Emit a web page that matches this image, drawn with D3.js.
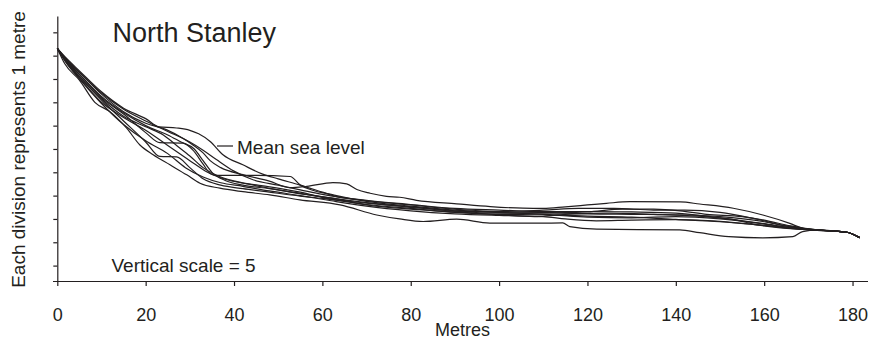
<!DOCTYPE html>
<html>
<head>
<meta charset="utf-8">
<script src="https://cdn.jsdelivr.net/npm/d3@7"></script>
<style>
  body { margin: 0; background: #fff; }
  svg { display: block; font-family: 'Liberation Sans', Arial, sans-serif; }
</style>
</head>
<body>
<svg id="chart"></svg>
<script>
// beach profiles, [metres, elevation in divisions]
const p1 = [[0,9.31],[2,8.9],[5,8.35],[10,7.45],[15,6.75],[20,6.3],[23,5.95],[27,5.9],[30,5.8],[32,5.65],[34.6,5.32],[37.5,4.75],[42,4.32],[46.5,3.92],[50,3.72],[55,3.45],[60,3.15],[63,2.97],[70,2.8],[80,2.62],[90,2.45],[100,2.38],[110,2.32],[120,2.32],[130,2.3],[140,2.25],[150,2.05],[160,1.8],[166,1.63],[172,1.53],[176,1.48],[179,1.42],[181.6,1.2]]
const p2 = [[0,9.31],[2,8.85],[5,8.3],[10,7.35],[15,6.6],[20,6.1],[24.8,5.82],[28.4,5.46],[30.7,5.17],[33,4.83],[34.6,4.5],[37,4.2],[42,3.9],[48,3.62],[52.7,3.34],[56.5,3.4],[62.4,3.56],[65.5,3.5],[67.8,3.26],[70.8,3.1],[74.5,2.97],[77.5,2.93],[81.3,2.8],[90.4,2.65],[98,2.53],[105.4,2.46],[110,2.45],[115,2.52],[120,2.6],[124.3,2.67],[129.6,2.74],[141,2.73],[145.4,2.64],[153,2.46],[159.7,2.17],[165.8,1.81],[168.7,1.6],[172,1.52],[176,1.48],[179,1.42],[181.6,1.2]]
const p3 = [[0,9.31],[3,8.6],[6,8.0],[10,7.2],[15,6.5],[20,5.7],[23.2,5.27],[28.4,5.25],[30.7,4.95],[33,4.35],[34.6,3.95],[36,3.87],[45,3.87],[52.7,3.82],[55,3.45],[58,3.22],[62,3.05],[70,2.75],[80,2.55],[90,2.38],[100,2.3],[110,2.28],[120,2.22],[130,2.2],[140,2.18],[150,2.1],[160,1.88],[166,1.66],[172,1.53],[176,1.48],[179,1.42],[181.6,1.2]]
const p4 = [[0,9.31],[1.7,8.65],[5,7.95],[8.5,7.0],[11.9,6.6],[15.7,5.89],[18.7,5.17],[21.7,4.75],[25.5,4.32],[29.3,3.89],[32.3,3.53],[36.8,3.32],[42,3.17],[48.1,3.03],[54.9,2.82],[64,2.6],[72.3,2.17],[77.5,2.0],[82.8,1.89],[90.4,1.99],[97.9,1.82],[109.2,1.82],[114.4,1.83],[116,1.67],[122.1,1.56],[140.9,1.53],[145.4,1.41],[152,1.24],[159.7,1.19],[166.5,1.24],[168.7,1.46],[172,1.52],[176,1.48],[179,1.42],[181.6,1.2]]
const p5 = [[0,9.31],[2,8.75],[5,8.1],[10,7.1],[15,6.2],[20,5.3],[23.2,4.68],[27,4.66],[30,4.2],[33,3.72],[37,3.45],[42,3.3],[48,3.15],[55,2.98],[60,2.88],[70,2.62],[80,2.45],[90,2.28],[100,2.2],[110,2.18],[120,2.08],[130,2.05],[140,2.1],[150,2.0],[160,1.78],[166,1.62],[172,1.51],[176,1.48],[179,1.42],[181.6,1.2]]
const p6 = [[0,9.31],[2,8.8],[5,8.2],[10,7.25],[15,6.55],[20,6.0],[25,5.6],[28,5.3],[31,5.0],[33,4.5],[35,4.0],[38,3.65],[42,3.45],[48,3.3],[55,3.1],[60,2.95],[70,2.7],[80,2.5],[90,2.33],[100,2.25],[110,2.25],[120,2.3],[128,2.42],[135,2.42],[141,2.35],[147,2.2],[155,2.1],[160,1.95],[166,1.7],[172,1.53],[176,1.48],[179,1.42],[181.6,1.2]]
const p7 = [[0,9.31],[2,8.7],[5,8.0],[10,6.95],[15,6.05],[20,5.35],[25,4.8],[29,4.2],[33,3.8],[37,3.55],[42,3.4],[48,3.2],[55,3.0],[62,2.78],[70,2.55],[80,2.35],[90,2.22],[100,2.15],[110,2.1],[115,2.0],[122,1.92],[130,1.95],[140,1.97],[150,1.9],[160,1.72],[166,1.6],[172,1.52],[176,1.48],[179,1.42],[181.6,1.2]]
const p8 = [[0,9.31],[2,8.82],[5,8.28],[10,7.4],[15,6.7],[20,6.2],[25,5.75],[30,5.3],[33,4.95],[36,4.55],[40,4.05],[44,3.7],[50,3.45],[55,3.25],[60,3.05],[70,2.78],[80,2.6],[90,2.42],[100,2.32],[110,2.38],[118,2.45],[126,2.45],[135,2.38],[142,2.38],[150,2.28],[158,2.0],[165,1.7],[172,1.52],[176,1.48],[179,1.42],[181.6,1.2]]
const p9 = [[0,9.31],[2,8.72],[5,8.05],[10,7.0],[15,6.35],[20,5.8],[25,5.15],[30,4.5],[34,4.0],[38,3.7],[43,3.5],[50,3.25],[56,3.05],[62,2.9],[70,2.6],[80,2.42],[90,2.3],[100,2.18],[108,2.1],[115,2.2],[125,2.25],[135,2.2],[145,2.12],[152,2.0],[160,1.7],[166,1.58],[172,1.52],[176,1.48],[179,1.42],[181.6,1.2]]
const p10 = [[0,9.31],[2,8.78],[5,8.12],[10,7.15],[15,6.4],[20,5.95],[24,5.6],[27,5.15],[30,4.7],[33,4.2],[37,3.8],[42,3.55],[48,3.38],[55,3.15],[62,2.85],[70,2.68],[80,2.52],[90,2.35],[100,2.28],[110,2.2],[120,2.12],[130,2.08],[140,1.98],[150,1.88],[158,1.75],[166,1.62],[172,1.52],[176,1.48],[179,1.42],[181.6,1.2]]
const profiles = [p1, p2, p3, p4, p5, p6, p7, p8, p9, p10]

const xTicks = [0, 20, 40, 60, 80, 100, 120, 140, 160, 180]
const yTicks = [0, 1, 2, 3, 4, 5, 6, 7, 8, 9, 10]

const title = 'North Stanley'
const yLabel = 'Each division represents 1 metre'
const xLabel = 'Metres'
const seaLabel = 'Mean sea level'
const scaleLabel = 'Vertical scale = 5'

const w = 871
const h = 338
const ink = '#231f20'

const svg = d3.select('#chart').attr('width', w).attr('height', h)

const x = d3.scaleLinear().domain([0, 183.5]).range([57.3, 868])
const y = d3.scaleLinear().domain([-0.66, 10.7]).range([281, 16])

// axes
const xAxis = svg
  .append('g')
  .attr('transform', `translate(0,${y(-0.66)})`)
  .call(
    d3.axisBottom(x).tickValues(xTicks).tickSize(5).tickSizeOuter(0).tickPadding(22)
  )
xAxis.select('.domain').attr('d', `M53,0.5H${x(183.5)}`)

const yAxis = svg
  .append('g')
  .attr('transform', `translate(${x(0)},0)`)
  .call(d3.axisLeft(y).tickValues(yTicks).tickSize(4).tickSizeOuter(0).tickFormat(''))

svg.selectAll('.domain, .tick line').attr('stroke', ink).attr('stroke-width', 1.2)
xAxis
  .selectAll('text')
  .attr('fill', ink)
  .style('font-size', '18px')
  .style('font-family', "'Liberation Sans', Arial, sans-serif")

// profile lines
const line = d3
  .line()
  .x((d) => x(d[0]))
  .y((d) => y(d[1]))
  .curve(d3.curveMonotoneX)

svg
  .append('g')
  .selectAll('path')
  .data(profiles)
  .join('path')
  .attr('d', line)
  .attr('fill', 'none')
  .attr('stroke', ink)
  .attr('stroke-width', 1.2)

// labels
svg
  .append('text')
  .text(title)
  .attr('x', 112.5)
  .attr('y', 41.7)
  .attr('fill', ink)
  .style('font-size', '27px')

svg
  .append('text')
  .text(yLabel)
  .attr('transform', 'translate(25,149.5) rotate(-90)')
  .attr('text-anchor', 'middle')
  .attr('fill', ink)
  .style('font-size', '19px')

svg
  .append('text')
  .text(xLabel)
  .attr('x', 462.5)
  .attr('y', 335.5)
  .attr('text-anchor', 'middle')
  .attr('fill', ink)
  .style('font-size', '18px')

svg
  .append('line')
  .attr('x1', 217)
  .attr('x2', 233)
  .attr('y1', 146)
  .attr('y2', 146)
  .attr('stroke', ink)
  .attr('stroke-width', 1.2)

svg
  .append('text')
  .text(seaLabel)
  .attr('x', 237)
  .attr('y', 154)
  .attr('fill', ink)
  .style('font-size', '19px')

svg
  .append('text')
  .text(scaleLabel)
  .attr('x', 111.5)
  .attr('y', 272)
  .attr('fill', ink)
  .style('font-size', '19px')
</script>
</body>
</html>
